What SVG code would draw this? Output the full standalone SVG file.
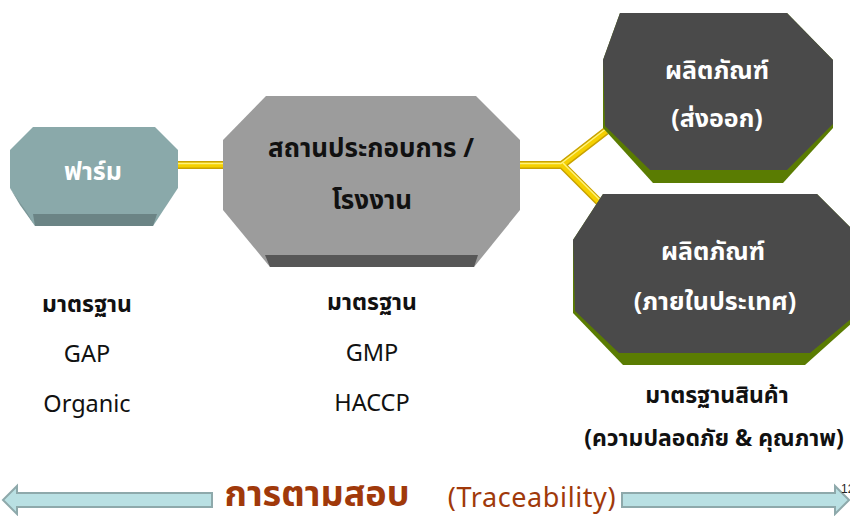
<svg xmlns="http://www.w3.org/2000/svg" width="850" height="516" viewBox="0 0 850 516">
  <defs>
    <style>
      .t { font-family: "Noto Sans", "Noto Sans Thai", "Liberation Sans", sans-serif; text-anchor: middle; }
      .nodeW { fill: #ffffff; font-weight: bold; font-size: 25px; }
      .nodeB { fill: #111111; font-weight: bold; font-size: 26px; }
      .lbl { fill: #111111; font-size: 23.5px; }
      .lblb { fill: #111111; font-size: 23px; font-weight: bold; }
      .tube1 { fill: none; stroke: #c9a200; stroke-width: 8; stroke-linejoin: round; }
      .tube2 { fill: none; stroke: #f5d000; stroke-width: 5; stroke-linejoin: round; }
      .tube3 { fill: none; stroke: #fff27a; stroke-width: 1.5; stroke-linejoin: round; }
      .arr { fill: #b9e0e3; stroke: #8ea9ab; stroke-width: 2; }
    </style>
  </defs>

  <g id="connectors">
    <path class="tube1" d="M176,165 H225 M518,165 H562 L606,131 M562,165 L606,209"/>
    <path class="tube2" d="M176,165 H225 M518,165 H562 L606,131 M562,165 L606,209"/>
    <path class="tube3" d="M176,163.5 H225 M518,163.5 H561 L605,129.5 M563,163 L607,207"/>
  </g>

  <g id="farm">
    <polygon points="33,127 155,127 178,150 178,188 153,226 35,226 10,188 10,150" fill="#8aa9aa"/>
    <polygon points="10,188 28,214 35,226 20,205" fill="#7a9697"/>
    <polygon points="33,214 157,214 153,226 35,226" fill="#6b8485"/>
    <text class="t nodeW" x="93" y="180">ฟาร์ม</text>
  </g>

  <g id="factory">
    <polygon points="266,96 476,96 520,140 520,210 474,267 270,267 223,210 223,140" fill="#9c9c9c"/>
    <polygon points="265,255 478,255 474,267 270,267" fill="#575757"/>
    <text class="t nodeB" x="371" y="157">สถานประกอบการ /</text>
    <text class="t nodeB" x="372" y="209">โรงงาน</text>
  </g>

  <g id="export">
    <polygon points="620,13 787,13 833,60 833,128 783,183 653,183 603,128 603,60" fill="#5a7c02"/>
    <polygon points="620,13 787,13 833,60 833,124 787,170 650,170 605,126 603,60" fill="#4a4a4a"/>
    <text class="t nodeW" x="717" y="79">ผลิตภัณฑ์</text>
    <text class="t nodeW" x="717" y="127">(ส่งออก)</text>
  </g>

  <g id="domestic">
    <polygon points="603,194 817,194 863,240 863,313 805,365 623,365 573,313 573,240" fill="#5a7c02"/>
    <polygon points="603,194 817,194 863,240 863,309 810,353 619,353 575,311 573,240" fill="#4a4a4a"/>
    <text class="t nodeW" x="713" y="260">ผลิตภัณฑ์</text>
    <text class="t nodeW" x="715" y="310" font-size="26">(ภายในประเทศ)</text>
  </g>

  <g id="labels-farm">
    <text class="t lblb" x="87" y="312">มาตรฐาน</text>
    <text class="t lbl" x="87" y="362">GAP</text>
    <text class="t lbl" x="87" y="412">Organic</text>
  </g>

  <g id="labels-factory">
    <text class="t lblb" x="372" y="310">มาตรฐาน</text>
    <text class="t lbl" x="372" y="361">GMP</text>
    <text class="t lbl" x="372" y="411">HACCP</text>
  </g>

  <g id="labels-product">
    <text class="t lblb" x="717" y="403">มาตรฐานสินค้า</text>
    <text class="t lblb" x="714" y="446" font-size="23.5">(ความปลอดภัย &amp; คุณภาพ)</text>
  </g>

  <g id="traceability">
    <polygon class="arr" points="212,493 212,507 17,507 17,514 3,500 17,486 17,493"/>
    <polygon class="arr" points="622,493 622,507 835,507 835,514 849,500 835,486 835,493"/>
    <text class="t" x="317" y="506" font-size="36" font-weight="bold" fill="#a0390a">การตามสอบ</text>
    <text class="t" x="532" y="507" font-size="27" letter-spacing="0.6" fill="#a0390a">(Traceability)</text>
    <text x="841" y="493" font-family="Liberation Sans, sans-serif" font-size="12" fill="#222">12</text>
  </g>
</svg>
